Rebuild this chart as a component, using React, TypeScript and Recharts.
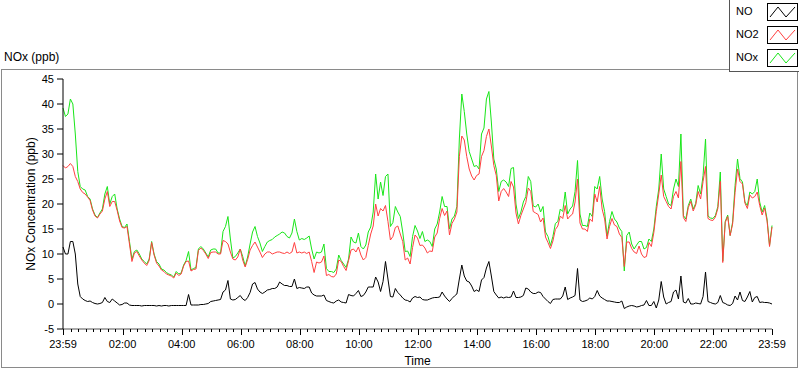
import { LineChart, Line, XAxis, YAxis } from 'recharts';

// 5 minute samples, starting 23:59 and ending 23:59 the next day (289 points)
const NOX = [
  39.2, 37.5, 38, 41, 40, 34, 26.5, 23.5, 23, 22.8, 21.5, 21,
  19, 17.8, 17.3, 18.2, 19, 22, 23.5, 20, 21.5, 22, 19, 17,
  15.5, 15.3, 16, 12.5, 9, 10.5, 10.8, 10, 9, 8.5, 8, 9,
  12.5, 10, 8.5, 8, 7, 6.8, 6.3, 6, 5.8, 5.4, 6.5, 6,
  6.2, 7.8, 8.7, 10.5, 6.8, 7.1, 7.3, 11, 11.5, 11, 10.2, 9.4,
  10.8, 11, 11, 10.2, 10.2, 14.5, 15.5, 17.5, 13, 9.2, 9.5, 10.2,
  11, 9.5, 7.6, 9.4, 12, 14.4, 15.5, 13.5, 12.2, 10.5, 11.5, 12.4,
  12.7, 12.9, 13.4, 13.7, 14, 14.4, 14.2, 13.5, 13.2, 14.2, 17, 14.5,
  12.8, 13.1, 12.9, 13.2, 13.6, 11, 9, 10.4, 10.2, 10.4, 12, 7.1,
  6.5, 6.5, 6.3, 7, 9.8, 8.7, 8, 7.3, 9, 13.4, 12.4, 12.2,
  14.2, 11.5, 11, 11.8, 14.4, 15.4, 18.4, 26, 21, 24.4, 21.7, 25.5,
  26, 15.5, 16.3, 19.5, 18.4, 17.5, 14.4, 10.5, 10.6, 9.5, 13.5, 15.7,
  14.6, 13.1, 14.5, 12.5, 12.8, 12.5, 11.5, 15, 16, 18.4, 21.5, 19.5,
  19.5, 15, 17, 17.6, 19.5, 33, 42, 38.5, 34, 30.5, 29, 27.5,
  27.7, 27, 34, 35.2, 41, 42.5, 36.4, 29, 27, 22.5, 24.5, 24.8,
  24.4, 23.5, 27.1, 27.3, 20, 17.1, 18.4, 20.4, 21.5, 25.5, 24.5, 19.6,
  19.4, 20, 18.4, 19.5, 14.4, 13.5, 11.7, 13.5, 16.1, 16.5, 19, 18.5,
  22.4, 18, 19, 19.6, 22.5, 28.7, 18, 15.7, 15.7, 15.5, 18.2, 17.5,
  23.5, 23, 25.5, 21, 18.5, 13.6, 16.5, 18.5, 17, 16.4, 15.2, 14.5,
  6.6, 13.7, 14.4, 12, 11, 11.8, 12.5, 12.5, 11, 11.3, 13, 12.5,
  15, 19.5, 23, 30, 23, 21.5, 20, 19.7, 23, 25, 23.5, 34,
  17.7, 17, 19.7, 21, 19, 20.1, 23.7, 22, 25.7, 33, 17.6, 17.2,
  17.1, 17.7, 19.5, 26.4, 8.6, 16.5, 17.8, 13.7, 16.4, 23.7, 29, 25.1,
  24.4, 20.4, 19.7, 22.4, 22, 22.5, 25, 20.4, 18.4, 19.7, 17, 11.7,
  15.7,
];

const NO2 = [
  27.7, 27.2, 27.5, 28.1, 27.5, 25.5, 24.5, 23, 22.3, 22, 21.4, 20.7,
  18.8, 17.6, 17.2, 18, 18.6, 21, 22.5, 19.5, 20.5, 20.5, 18.7, 16.6,
  15.3, 15.2, 15.5, 12, 8.5, 10.2, 10.5, 9.6, 8.8, 8.2, 7.7, 8.7,
  12.3, 9.8, 8.2, 7.6, 6.8, 6.5, 6, 5.8, 5.6, 5.2, 6.2, 5.7,
  6, 7.6, 8.5, 8.6, 6.6, 6.9, 7, 10.7, 11.2, 10.7, 10, 9.1,
  10.3, 10.4, 10.4, 10, 10, 12.7, 12.5, 12, 10.4, 9, 8.8, 9.4,
  11, 8.8, 7.4, 8.9, 10.8, 11.7, 12.4, 11.4, 10.4, 9.3, 10, 10.4,
  10.4, 10, 10.2, 10.4, 10.4, 10.2, 10.1, 10.4, 10.1, 10.4, 12.3, 10.2,
  10.4, 10.2, 10.4, 10.1, 10.4, 8.5, 6.3, 8.4, 8.2, 8.4, 9.6, 5.7,
  5.9, 5.5, 5.4, 6, 8.8, 8.5, 7.5, 6.7, 8.7, 10.8, 11, 10.4,
  11.4, 9.8, 8.8, 9.3, 11.7, 14, 15.6, 20, 17.6, 19.1, 18.6, 19.7,
  16.5, 12.8, 13.5, 15.3, 15.6, 14, 12.5, 8.8, 9.2, 8, 11.3, 13.8,
  13.2, 11.7, 11.8, 11.2, 10.2, 10.6, 10.5, 13.4, 14.2, 17.1, 19.1, 17.7,
  18.6, 13.8, 16.1, 17, 18.4, 29.5, 33.6, 32.8, 29.5, 27, 25.6, 24.8,
  25.7, 26, 29.5, 30.7, 33.5, 35, 31.6, 27.7, 25.7, 20.6, 22.5, 23.1,
  22.4, 21.5, 24.5, 23.4, 18.2, 16, 17.7, 19, 20.3, 23.2, 22.5, 18.5,
  18.2, 17.9, 16.4, 17.2, 13.4, 12.3, 11.1, 12.6, 14.9, 15.6, 17.6, 17.1,
  19.7, 17, 17.6, 18, 20.4, 25, 16.2, 15, 15, 14.5, 17, 16.5,
  22, 20.4, 23.5, 19, 17, 13, 15.5, 17.1, 15.8, 15.5, 14, 13.3,
  7.5, 12.4, 12.4, 11.1, 10.4, 10.1, 11.6, 10, 9.3, 9.5, 12.3, 11.5,
  14.3, 18.5, 22, 25.8, 21.5, 20.5, 19.5, 19, 21.5, 22.5, 21.2, 28.5,
  17.3, 16.5, 19.3, 20.5, 18.6, 19.8, 22.5, 21, 24.5, 27.5, 17.1, 16.8,
  16.7, 17.4, 19.1, 24.5, 8.3, 16.3, 17.5, 13.7, 16, 22.3, 27, 24.5,
  24, 20.2, 19.1, 21.8, 21.2, 21.5, 22.4, 19.7, 17.8, 19.2, 16.6, 11.5,
  15.4,
];

const NO = [
  11.4, 10, 10, 12.5, 12.5, 10, 4, 1.5, 1, 0.7, 0.5, 0.6,
  0.3, 0.1, 0, 0.1, 0.3, 1.3, 0.5, 0.3, 1, 0.6, 0.2, -0.2,
  -0.1, 0.2, 0.2, -0.2, -0.3, -0.3, -0.3, -0.3, -0.4, -0.3, -0.3, -0.3,
  -0.3, -0.3, -0.4, -0.3, -0.4, -0.3, -0.3, -0.4, -0.3, -0.3, -0.3, -0.3,
  -0.3, -0.3, -0.3, 1.9, -0.2, -0.2, -0.2, -0.2, -0.1, -0.1, 0, 0.1,
  0.5, 0.6, 0.7, 0.8, 0.9, 2.4, 2.8, 4.7, 1, 0.8, 0.9, 1.3,
  1.7, 1, 0.7, 1.3, 2.3, 4, 4.3, 3, 2.4, 2.1, 2.4, 2.8,
  2.9, 3.1, 3.1, 3.4, 4.4, 4, 3.7, 3.7, 3.5, 3.5, 5, 3.1,
  3.3, 3.2, 3.1, 3.4, 3.4, 2.2, 1.8, 1.6, 1.6, 1.6, 1.8, 0.7,
  0.5, 0.3, 0.2, 0.6, 0.8, 0.4, 0.3, 0.2, 1.9, 1.7, 1.6, 2.1,
  2.7, 1.5, 1.7, 2.4, 3.4, 3.4, 3.4, 5.4, 4.4, 2.5, 4.5, 8.5,
  5, 1.5, 1.4, 3.1, 2.3, 1.8, 1.2, 0.8, 0.7, 0.4, 1.2, 1.5,
  1.3, 1.4, 0.9, 0.8, 0.8, 1, 1.2, 1.3, 1.3, 1.4, 2.4, 1.6,
  1, 0.5, 1.1, 1.6, 2, 5, 7.8, 5.6, 4.6, 4.4, 3.6, 2.5,
  2.8, 2.5, 4.8, 5.3, 7.2, 8.5, 5.6, 2.5, 1.8, 1.2, 1.4, 1.2,
  1.4, 1.3, 1.4, 2.6, 1.3, 1.3, 1.4, 1.7, 3.2, 3, 2.4, 2.1,
  2.1, 2.4, 2.3, 1.5, 1, 0.5, 0.1, 0.9, 1, 1, 1, 1.6,
  3.4, 0.9, 1.2, 1.4, 1.7, 7.1, 0.8, 0.5, 0.6, 0.8, 1.2, 1,
  1.5, 2.7, 1.6, 1.2, 0.9, 0.6, 0.6, 0.5, 0.4, 0.3, 0.3, 0.6,
  -0.9, -0.6, -0.4, -0.3, -0.4, -0.6, -0.5, -0.3, -0.2, 0.7, -0.3, -0.3,
  0.5, -0.8, 0.8, 4.5, 1.4, 0, 0.3, 0.5, 2.4, 2.8, 1, 5.6,
  0.4, 0.2, 1.1, 0, 0, 0.2, 0.1, 0, 1.5, 6.4, 0.5, 0.3,
  0.1, 0, 0.3, 1.7, 0.3, 0.1, -0.2, -0.3, 0.1, 1.6, 0.8, 2.4,
  0.7, 0.5, 1.4, 2.5, 0.4, 1.3, 1.5, 0.3, 0.4, 0.3, 0.3, 0.2,
  0,
];

const STEP_MIN = 5;
const Y_TICKS = [-5, 0, 5, 10, 15, 20, 25, 30, 35, 40, 45];
const TIME_LABELS = ['23:59', '02:00', '04:00', '06:00', '08:00', '10:00', '12:00', '14:00', '16:00', '18:00', '20:00', '22:00', '23:59'];
const LABEL_MINUTES = [0, 121, 241, 361, 481, 601, 721, 841, 961, 1081, 1201, 1321, 1440];

const LEGEND = [
  { name: 'NO', color: '#000000' },
  { name: 'NO2', color: '#ff4040' },
  { name: 'NOx', color: '#19e619' },
];

const FONT = '"Liberation Sans", Arial, sans-serif';

const data = NOX.map((v, i) => ({ t: i * STEP_MIN, nox: v, no2: NO2[i], no: NO[i] }));

// minor ticks every 15 min of clock time (00:00, 00:15 ...), plus both ends
const xTicks: number[] = [0];
for (let m = 1; m < 1440; m += 15) xTicks.push(m);
xTicks.push(1440);

const TimeTick = (props: any) => {
  const { x, y, payload } = props;
  const idx = LABEL_MINUTES.indexOf(payload.value);
  const px = Math.round(x) + 0.5;
  return (
    <g>
      <line x1={px} x2={px} y1={y} y2={y + (idx >= 0 ? 6 : 3)} stroke="#000" />
      {idx >= 0 && (
        <text x={x} y={y + 19} textAnchor="middle" fontSize={11} fill="#000" fontFamily={FONT}>
          {TIME_LABELS[idx]}
        </text>
      )}
    </g>
  );
};

const Swatch = ({ color }: { color: string }) => (
  <svg width={31} height={18} style={{ display: 'block' }}>
    <rect x={0.5} y={0.5} width={30} height={17} fill="#fff" stroke="#000" />
    <polyline points="3,14 11,4 19,14 28,4" fill="none" stroke={color} />
  </svg>
);

export default function App() {
  return (
    <div style={{ position: 'absolute', left: 0, top: 0, width: 800, height: 369, background: '#fff', fontFamily: FONT }}>
      {/* outer frame */}
      <div style={{ position: 'absolute', left: 1, top: 69, width: 795, height: 297, border: '1px solid #8a8a8a' }} />
      <div style={{ position: 'absolute', left: 4, top: 50, fontSize: 12, color: '#000' }}>NOx (ppb)</div>

      <div style={{ position: 'absolute', left: 0, top: 0 }}>
        <LineChart width={800} height={369} data={data} margin={{ top: 79, right: 28, bottom: 0, left: 0 }}>
          <XAxis
            dataKey="t"
            type="number"
            domain={[0, 1440]}
            ticks={xTicks}
            interval={0}
            height={40}
            tickSize={0}
            tickMargin={0}
            tickLine={false}
            axisLine={{ stroke: '#555' }}
            tick={<TimeTick />}
            label={{ value: 'Time', position: 'insideBottom', offset: 4, fontSize: 12, fill: '#000', fontFamily: FONT }}
          />
          <XAxis xAxisId="top" orientation="top" dataKey="t" type="number" domain={[0, 1440]} height={0} tick={false} tickLine={false} axisLine={{ stroke: '#000' }} />
          <YAxis
            type="number"
            domain={[-5, 45]}
            ticks={Y_TICKS}
            interval={0}
            width={63}
            tickSize={6}
            tickMargin={3}
            axisLine={{ stroke: '#000' }}
            tickLine={{ stroke: '#000' }}
            tick={{ fontSize: 11, fill: '#000', fontFamily: FONT }}
            label={{ value: 'NOx Concentration (ppb)', angle: -90, position: 'center', dx: -1, fontSize: 12, fill: '#000', fontFamily: FONT }}
          />
          <YAxis yAxisId="right" orientation="right" type="number" domain={[-5, 45]} width={0} tick={false} tickLine={false} axisLine={{ stroke: '#999' }} />
          <Line type="linear" dataKey="nox" stroke="#19e619" strokeWidth={1} dot={false} isAnimationActive={false} />
          <Line type="linear" dataKey="no2" stroke="#ff4040" strokeWidth={1} dot={false} isAnimationActive={false} />
          <Line type="linear" dataKey="no" stroke="#000000" strokeWidth={1} dot={false} isAnimationActive={false} />
        </LineChart>
      </div>

      {/* legend */}
      <div style={{ position: 'absolute', left: 729, top: 0, width: 69, height: 71, background: '#fff', borderLeft: '1px solid #555', borderBottom: '1px solid #555' }}>
        {LEGEND.map((item, i) => (
          <div key={item.name} style={{ position: 'absolute', left: 0, top: 3 + i * 23, width: 69, height: 18 }}>
            <span style={{ position: 'absolute', left: 6, top: 2, fontSize: 11, color: '#000' }}>{item.name}</span>
            <div style={{ position: 'absolute', left: 37, top: 0 }}>
              <Swatch color={item.color} />
            </div>
          </div>
        ))}
      </div>
    </div>
  );
}
